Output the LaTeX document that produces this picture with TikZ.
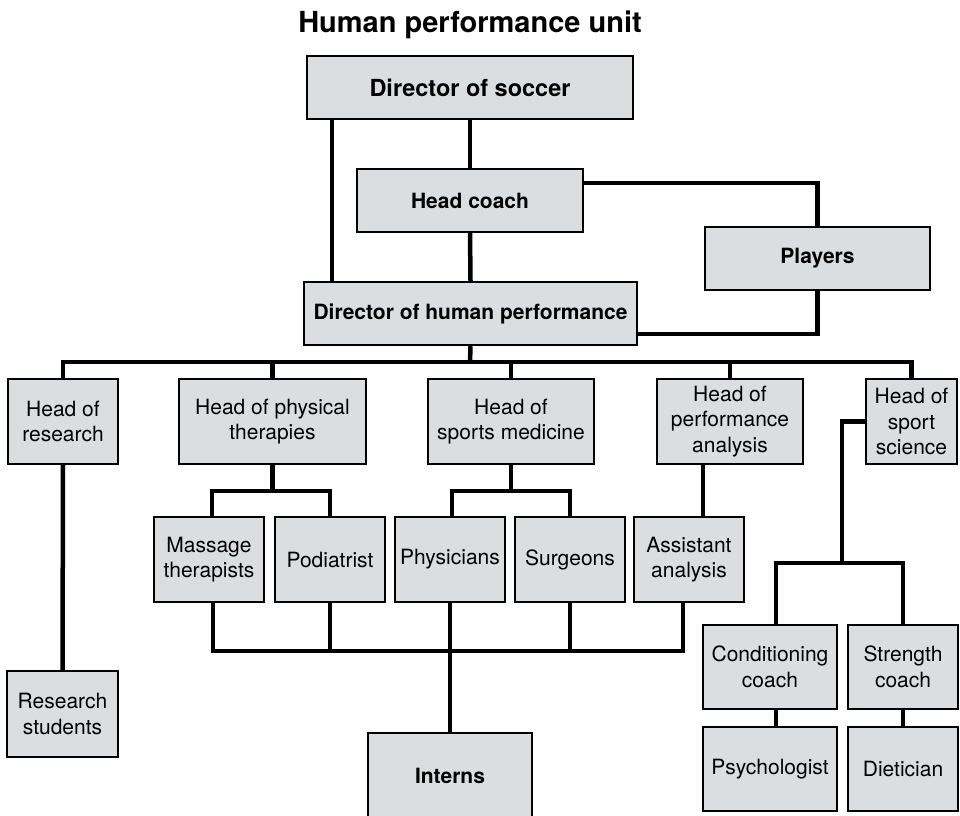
\documentclass[tikz,border=0pt]{standalone}
\usepackage{fontspec}
\setmainfont{TeX Gyre Heros}
\usepackage{tikz}
\usetikzlibrary{positioning,calc}
\definecolor{fondocaja}{RGB}{220,221,223}

\begin{document}
\begin{tikzpicture}[x=1pt, y=-1pt,
    puesto/.style={draw, line width=2.4pt, fill=fondocaja, align=center, inner sep=0pt,
                   font=\fontsize{21}{25.5}\selectfont, minimum width=110pt, minimum height=85pt},
    mando/.style={puesto, font=\fontsize{21}{25.5}\selectfont\bfseries, minimum height=63pt},
    rel/.style={line width=4.5pt}]
  \useasboundingbox (0,0) rectangle (960,815);
  \node[font=\fontsize{29}{34}\selectfont\bfseries] (tit) at (470,25) {Human performance unit};
  \node[mando, minimum width=326pt, font=\fontsize{23.5}{28}\selectfont\bfseries] (ds) at (470,87.5) {Director of soccer};
  \node[mando, minimum width=226pt] (hc) at (470,200.5) {Head coach};
  \node[mando, minimum width=225pt] (pl) at (817.5,258.5) {Players};
  \node[mando, minimum width=333pt] (dhp) at (470.5,313.5) {Director of human performance};
  \node[puesto] (hr) at (63,421.5) {Head of\\research};
  \node[puesto, minimum width=187pt] (hpt) at (272.5,421.5) {Head of physical\\therapies};
  \node[puesto, minimum width=166pt] (hsm) at (511,421.5) {Head of\\sports medicine};
  \node[puesto, minimum width=146pt] (hpa) at (730,421.5) {Head of\\performance\\analysis};
  \node[puesto, minimum width=91pt] (hss) at (911.5,421.5) {Head of\\sport\\science};
  \node[puesto] (mt) at (209,559.5) {Massage\\therapists};
  \node[puesto] (pod) at (330,559.5) {Podiatrist};
  \node[puesto] (phy) at (450,559.5) {Physicians};
  \node[puesto] (sur) at (570,559.5) {Surgeons};
  \node[puesto] (aa) at (689,559.5) {Assistant\\analysis};
  \node[puesto, minimum width=111pt, minimum height=86pt] (rs) at (62.5,714) {Research\\students};
  \node[mando, minimum width=164pt, minimum height=86pt] (in) at (450,776) {Interns};
  \node[puesto, minimum width=134pt, minimum height=84pt] (cc) at (770,667) {Conditioning\\coach};
  \node[puesto, minimum height=84pt] (sc) at (903,667) {Strength\\coach};
  \node[puesto, minimum width=134pt, minimum height=84pt] (psy) at (770,769) {Psychologist};
  \node[puesto, minimum height=84pt] (die) at (903,769) {Dietician};
  \coordinate (bus) at (470,362);
  \coordinate (ptbar) at (272.5,491);
  \coordinate (smbar) at (511,491);
  \coordinate (ib) at (450,651);
  \coordinate (ssbar) at (842,563);
  \draw[rel] (ds.south) -- (hc.north);
  \draw[rel] ([xshift=29pt]dhp.north west) -- ([xshift=29pt]dhp.north west |- ds.south);
  \draw[rel] (hc.south) -- (dhp.north);
  \draw[rel] ([yshift=17.5pt]hc.east) -| (pl.north);
  \draw[rel] (pl.south) |- ([yshift=-20.5pt]dhp.east);
  \draw[rel] (dhp.south) -- (bus);
  \draw[rel] (hr.north) |- (bus) -| (hss.north);
  \foreach \n in {hpt,hsm,hpa}
    \draw[rel] (\n.north) -- (\n.north |- bus);
  \draw[rel] (hpt.south) -- (ptbar);
  \draw[rel] ([xshift=3pt]mt.north) |- (ptbar) -| (pod.north);
  \draw[rel] (hsm.south) -- (smbar);
  \draw[rel] ([xshift=2pt]phy.north) |- (smbar) -| (sur.north);
  \draw[rel] ([xshift=-27pt]hpa.south) -- ([xshift=-27pt]hpa.south |- aa.north);
  \draw[rel] ([xshift=4pt]mt.south) |- (ib) -| ([xshift=-6pt]aa.south);
  \foreach \n in {pod,phy,sur}
    \draw[rel] (\n.south) -- (\n.south |- ib);
  \draw[rel] (ib) -- (in.north);
  \draw[rel] (hr.south) -- (rs.north);
  \draw[rel] (hss.west) -| (ssbar);
  \draw[rel] ([xshift=6pt]cc.north) |- (ssbar) -| (sc.north);
  \draw[rel] ([xshift=6pt]cc.south) -- ([xshift=6pt]psy.north);
  \draw[rel] (sc.south) -- (die.north);
\end{tikzpicture}
\end{document}
